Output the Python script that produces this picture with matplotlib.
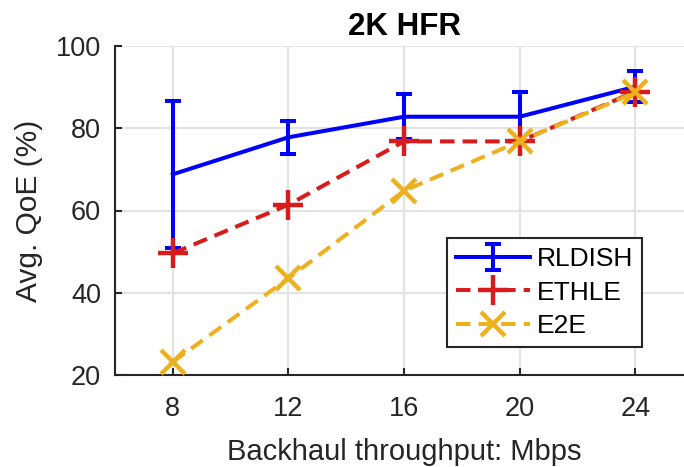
import matplotlib
matplotlib.use("Agg")
import matplotlib.pyplot as plt

# ── Data ─────────────────────────────────────────────────────────────────────
throughput = [8, 12, 16, 20, 24]
rldish     = [68.8, 77.8, 82.8, 82.8, 90.1]
rldish_err = [17.8, 4.0, 5.5, 5.9, 3.7]
ethle      = [49.6, 61.4, 76.8, 76.8, 88.9]
e2e        = [23.2, 43.5, 64.8, 76.8, 88.7]

x_ticks = [8, 12, 16, 20, 24]
y_ticks = [20, 40, 60, 80, 100]

BLUE   = "#0000FF"
RED    = "#D81B1B"
YELLOW = "#EDB120"
AXCOL  = "#262626"

plt.rcParams["font.family"] = ["Liberation Sans", "DejaVu Sans"]

fig = plt.figure(figsize=(6.84, 4.67), dpi=100)
ax = fig.add_axes([115 / 684, 1 - 375 / 467, (693 - 115) / 684, (375 - 46) / 467])

lw = 2.9
dash = (3.6, 2.0)
h_rl = ax.errorbar(throughput, rldish, yerr=rldish_err, color=BLUE, lw=lw,
                   capsize=6, capthick=lw, elinewidth=lw, label="RLDISH", zorder=3)
h_et, = ax.plot(throughput, ethle, color=RED, lw=lw, dashes=dash,
                marker="+", ms=22, mew=3.2, label="ETHLE", zorder=4)
h_e2, = ax.plot(throughput, e2e, color=YELLOW, lw=lw, dashes=dash,
                marker="x", ms=17, mew=3.2, label="E2E", zorder=5)

ax.set_xlim(6, 26)
ax.set_ylim(20, 100)
ax.set_xticks(x_ticks)
ax.set_yticks(y_ticks)
ax.grid(True, color="#E3E3E3", lw=1.5)
ax.set_axisbelow(True)

for s in ["top", "right"]:
    ax.spines[s].set_visible(False)
for s in ["left", "bottom"]:
    ax.spines[s].set_color(AXCOL)
    ax.spines[s].set_linewidth(1.5)
ax.tick_params(direction="in", length=5, width=1.5, colors=AXCOL,
               labelsize=19.5, top=False, right=False)
ax.tick_params(axis="x", pad=15)
ax.tick_params(axis="y", pad=10)

ax.set_xlabel("Backhaul throughput: Mbps", fontsize=21, color=AXCOL, labelpad=12)
ax.set_ylabel("Avg. QoE (%)", fontsize=21.5, color=AXCOL, labelpad=9)
ax.set_title("2K HFR", fontsize=22.5, fontweight="bold", pad=8)

leg = ax.legend([h_rl, h_et, h_e2], ["RLDISH", "ETHLE", "E2E"],
                loc="lower right", bbox_to_anchor=(642 / 684, 1 - 347 / 467),
                bbox_transform=fig.transFigure, fontsize=19, frameon=True,
                fancybox=False, edgecolor=AXCOL, framealpha=1,
                handlelength=2.8, handletextpad=0.25, borderpad=0.35,
                labelspacing=0.35, borderaxespad=0)
leg.get_frame().set_linewidth(1.5)

fig.savefig("out.png", dpi=100)
